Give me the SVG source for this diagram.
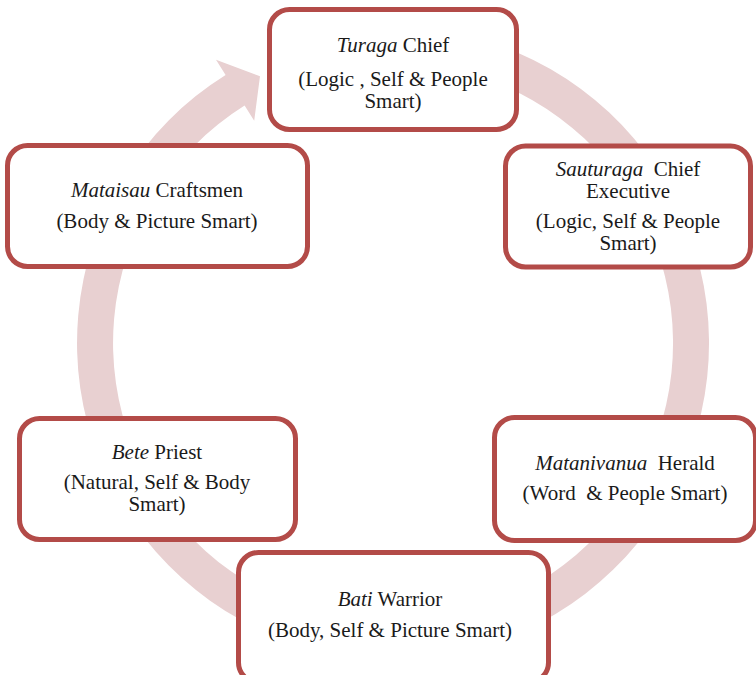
<svg xmlns="http://www.w3.org/2000/svg" width="756" height="675" viewBox="0 0 756 675">
  <style>
    .box { fill: #ffffff; stroke: #b34b48; stroke-width: 5; }
    .ring { fill: #e8d0d1; stroke: none; }
    text { font-family: "Liberation Serif", "Times New Roman", serif; font-size: 21px; fill: #1a1a1a; text-anchor: middle; white-space: pre; }
    .it { font-style: italic; }
  </style>
  <rect width="756" height="675" fill="#ffffff"/>

  <!-- circular arrow running clockwise behind the boxes -->
  <g id="connectors">
    <path class="ring" d="M 447.87 31.8 A 316 316 0 1 1 225.6 75.0 L 216 59.8 L 260 76.3 L 254.2 120.8 L 244.6 105.6 A 280 280 0 1 0 441.62 67.25 Z"/>
  </g>

  <g id="turaga">
    <rect class="box" x="269.5" y="9.5" width="247" height="120" rx="20"/>
    <text x="393" y="52"><tspan class="it">Turaga</tspan> Chief</text>
    <text x="393" y="86">(Logic , Self &amp; People</text>
    <text x="393" y="108">Smart)</text>
  </g>

  <g id="sauturaga">
    <rect class="box" x="505.5" y="146" width="245" height="121" rx="20"/>
    <text x="628" y="176"><tspan class="it">Sauturaga</tspan>  Chief</text>
    <text x="628" y="198">Executive</text>
    <text x="628" y="228">(Logic, Self &amp; People</text>
    <text x="628" y="250">Smart)</text>
  </g>

  <g id="matanivanua">
    <rect class="box" x="494.5" y="417.5" width="261" height="123" rx="20"/>
    <text x="625" y="470"><tspan class="it">Matanivanua</tspan>  Herald</text>
    <text x="625" y="500">(Word  &amp; People Smart)</text>
  </g>

  <g id="bati">
    <rect class="box" x="238.5" y="552.5" width="310" height="130" rx="20"/>
    <text x="390" y="606"><tspan class="it">Bati</tspan> Warrior</text>
    <text x="390" y="637">(Body, Self &amp; Picture Smart)</text>
  </g>

  <g id="bete">
    <rect class="box" x="19.5" y="418.5" width="276" height="121" rx="20"/>
    <text x="157" y="459"><tspan class="it">Bete</tspan> Priest</text>
    <text x="157" y="489">(Natural, Self &amp; Body</text>
    <text x="157" y="511">Smart)</text>
  </g>

  <g id="mataisau">
    <rect class="box" x="7.5" y="145.5" width="300" height="121" rx="20"/>
    <text x="157" y="197"><tspan class="it">Mataisau</tspan> Craftsmen</text>
    <text x="157" y="228">(Body &amp; Picture Smart)</text>
  </g>
</svg>
